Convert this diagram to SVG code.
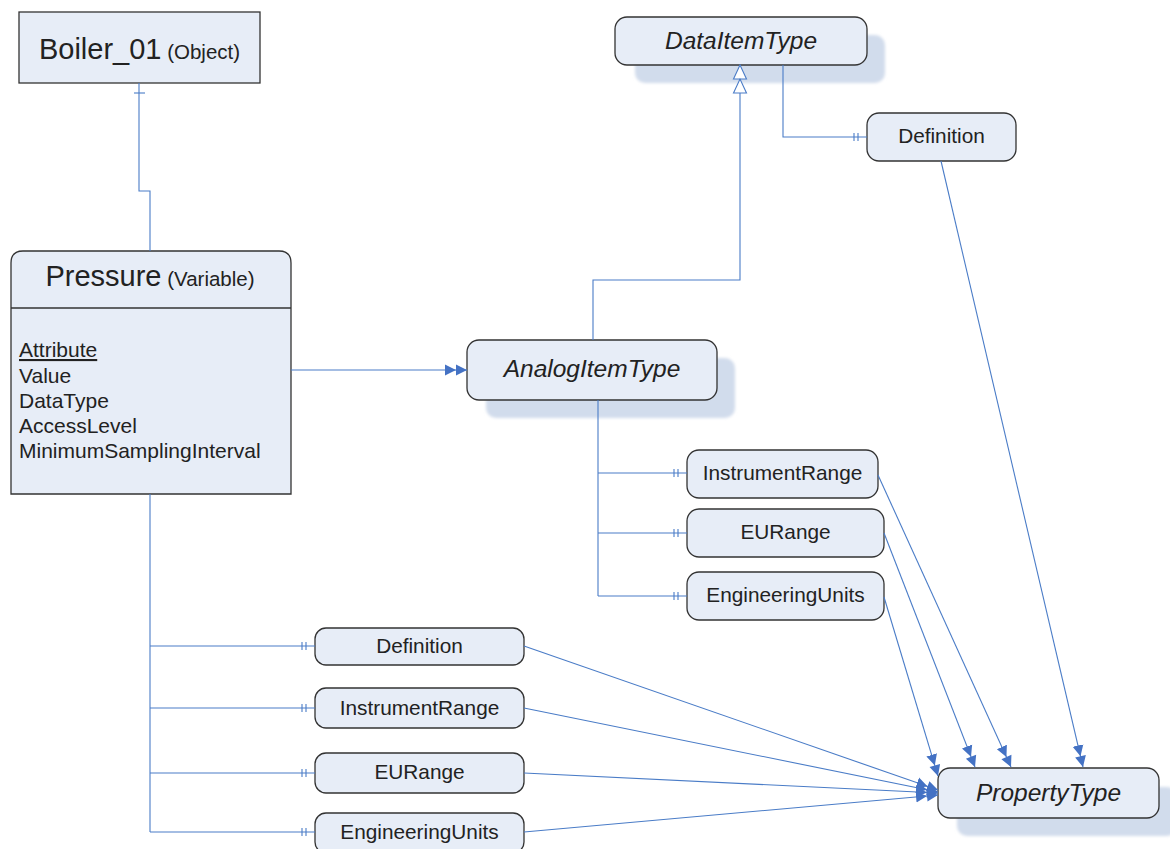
<svg xmlns="http://www.w3.org/2000/svg" width="1170" height="849" viewBox="0 0 1170 849">
<defs>
<style>
.box{fill:#e7edf7;stroke:#333;stroke-width:1.3}
.sh{fill:#d1dcec;filter:url(#blur)}
.t{font-family:"Liberation Sans",Arial,sans-serif;fill:#222}
.lbl{font-size:20.8px;text-anchor:middle}
.it{font-size:24.5px;font-style:italic;text-anchor:middle}
.c{fill:none;stroke:#4a7cc7;stroke-width:1.1}
.arr{marker-end:url(#dbl)}
.tk{marker-end:url(#ticks)}
</style>
<filter id="blur" x="-10%" y="-20%" width="120%" height="140%"><feGaussianBlur stdDeviation="1.5"/></filter>
<marker id="dbl" viewBox="0 -6 22 12" refX="22" refY="0" markerWidth="22" markerHeight="12" markerUnits="userSpaceOnUse" orient="auto">
<path d="M0,-5.5 L11,0 L0,5.5 Z M11,-5.5 L22,0 L11,5.5 Z" fill="#4472c4"/>
</marker>
<marker id="dblh" viewBox="0 -8 30 16" refX="29" refY="0" markerWidth="30" markerHeight="16" markerUnits="userSpaceOnUse" orient="auto">
<path d="M1,-6.5 L15,0 L1,6.5 Z M15,-6.5 L29,0 L15,6.5 Z" fill="#fff" stroke="#4a7cc7" stroke-width="1.1"/>
</marker>
<marker id="ticks" viewBox="0 -5 14 10" refX="14" refY="0" markerWidth="14" markerHeight="10" markerUnits="userSpaceOnUse" orient="auto">
<path d="M1,-4 V4 M5,-4 V4" stroke="#4a7cc7" stroke-width="1.1" fill="none"/>
</marker>
</defs>

<g id="boiler">
<rect class="box" x="19" y="12" width="241" height="71"/>
<text class="t" x="139.5" y="59" text-anchor="middle"><tspan font-size="29">Boiler_01</tspan><tspan font-size="20.5"> (Object)</tspan></text>
</g>

<g id="pressure">
<path class="box" d="M11,494 V263 Q11,251 23,251 H279 Q291,251 291,263 V494 Z"/>
<line x1="11" y1="308" x2="291" y2="308" stroke="#333" stroke-width="1.3"/>
<text class="t" x="150" y="286" text-anchor="middle"><tspan font-size="29">Pressure</tspan><tspan font-size="20.5"> (Variable)</tspan></text>
<g class="t" font-size="21">
<text x="19" y="357" text-decoration="underline">Attribute</text>
<text x="19" y="383">Value</text>
<text x="19" y="408">DataType</text>
<text x="19" y="433">AccessLevel</text>
<text x="19" y="458">MinimumSamplingInterval</text>
</g>
</g>

<g id="dataitemtype">
<rect class="sh" x="635" y="35" width="250" height="48" rx="10"/>
<rect class="box" x="615" y="17" width="252" height="48" rx="12"/>
<text class="t it" x="741" y="49">DataItemType</text>
</g>

<g id="analogitemtype">
<rect class="sh" x="486" y="358" width="249" height="60" rx="10"/>
<rect class="box" x="467" y="340" width="250" height="60" rx="12"/>
<text class="t it" x="592" y="377">AnalogItemType</text>
</g>

<g id="propertytype">
<rect class="sh" x="957" y="787" width="220" height="49" rx="10"/>
<rect class="box" x="938" y="768" width="221" height="50" rx="12"/>
<text class="t it" x="1048.5" y="801">PropertyType</text>
</g>

<g id="definition-dit">
<rect class="box" x="867" y="113" width="149" height="48" rx="12"/>
<text class="t lbl" x="941.5" y="143">Definition</text>
</g>

<g id="instrumentrange-ait">
<rect class="box" x="687" y="450" width="191" height="48" rx="12"/>
<text class="t lbl" x="782.5" y="480">InstrumentRange</text>
</g>
<g id="eurange-ait">
<rect class="box" x="687" y="509" width="197" height="48" rx="12"/>
<text class="t lbl" x="785.5" y="539">EURange</text>
</g>
<g id="engineeringunits-ait">
<rect class="box" x="687" y="572" width="197" height="48" rx="12"/>
<text class="t lbl" x="785.5" y="602">EngineeringUnits</text>
</g>

<g id="definition-p">
<rect class="box" x="315" y="628" width="209" height="37" rx="11"/>
<text class="t lbl" x="419.5" y="653">Definition</text>
</g>
<g id="instrumentrange-p">
<rect class="box" x="315" y="688" width="209" height="40" rx="11"/>
<text class="t lbl" x="419.5" y="715">InstrumentRange</text>
</g>
<g id="eurange-p">
<rect class="box" x="315" y="753" width="209" height="40" rx="11"/>
<text class="t lbl" x="419.5" y="779">EURange</text>
</g>
<g id="engineeringunits-p">
<rect class="box" x="315" y="813" width="209" height="40" rx="11"/>
<text class="t lbl" x="419.5" y="839">EngineeringUnits</text>
</g>

<g id="connectors">
<path class="c" d="M139,83 V191 H150 V251"/>
<path class="c" d="M134,93 H145"/>
<path class="c arr" d="M291,370 H467"/>
<path class="c" d="M593,340 V280 H740 V65" style="marker-end:url(#dblh)"/>
<path class="c tk" d="M783,65 V137 H867"/>
<path class="c arr" d="M941,161 L1083,767"/>
<path class="c" d="M598,400 V596"/>
<path class="c tk" d="M598,473 H687"/>
<path class="c tk" d="M598,533 H687"/>
<path class="c tk" d="M598,596 H687"/>
<path class="c arr" d="M878,475 L1011,767"/>
<path class="c arr" d="M884,533 L975,767"/>
<path class="c arr" d="M884,597 L938,776"/>
<path class="c" d="M150,494 V832"/>
<path class="c tk" d="M150,646 H315"/>
<path class="c tk" d="M150,708 H315"/>
<path class="c tk" d="M150,773 H315"/>
<path class="c tk" d="M150,832 H315"/>
<path class="c arr" d="M524,646 L938,790"/>
<path class="c arr" d="M524,708 L938,792"/>
<path class="c arr" d="M524,773 L938,793"/>
<path class="c arr" d="M524,832 L938,795"/>
</g>
</svg>
